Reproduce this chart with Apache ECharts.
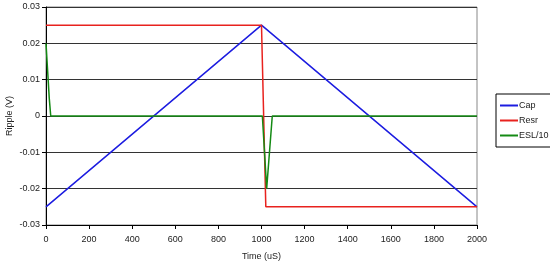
<!DOCTYPE html>
<html>
<head>
<meta charset="utf-8">
<script src="https://cdn.jsdelivr.net/npm/echarts@6/dist/echarts.min.js"></script>
<style>html,body{margin:0;padding:0;background:#fff}#c{width:550px;height:263px}</style>
</head>
<body>
<div id="c"></div>
<script>
var seriesNames = ['Cap', 'Resr', 'ESL/10'];
var capData = [[0, -0.025], [1000, 0.025], [2000, -0.025]];
var resrData = [[0, 0.025], [1000, 0.025], [1020, -0.025], [2000, -0.025]];
var eslData = [[0, 0.02], [5, 0.015], [15, 0.005], [22, 0], [1004, 0], [1024, -0.02], [1050, 0], [2000, 0]];
var xTicks = [0, 200, 400, 600, 800, 1000, 1200, 1400, 1600, 1800, 2000];
var yTicks = [-0.03, -0.02, -0.01, 0, 0.01, 0.02, 0.03];

var font = 'Liberation Sans, Arial, sans-serif';
var chart = echarts.init(document.getElementById('c'), null, {renderer: 'canvas'});
chart.setOption({
  animation: false,
  backgroundColor: '#fff',
  grid: {left: 46, right: 73, top: 7, bottom: 38, containLabel: false, outerBoundsMode: 'none',
    show: true, borderColor: '#888', borderWidth: 1},
  xAxis: {
    type: 'value', min: xTicks[0], max: xTicks[xTicks.length - 1], interval: 200,
    name: 'Time (uS)', nameLocation: 'middle', nameGap: 27, nameMoveOverlap: false,
    nameTextStyle: {fontFamily: font, fontSize: 9, color: '#222'},
    axisLine: {show: true, onZero: false, lineStyle: {color: '#000', width: 1}},
    axisTick: {show: true, length: 4, lineStyle: {color: '#000'}},
    axisLabel: {fontFamily: font, fontSize: 9, color: '#222', margin: 10,
      formatter: function (v) { return String(Math.round(v)); }},
    splitLine: {show: false}
  },
  yAxis: {
    type: 'value', min: yTicks[0], max: yTicks[yTicks.length - 1], interval: 0.01,
    name: 'Ripple (V)', nameLocation: 'middle', nameGap: 32, nameRotate: 90, nameMoveOverlap: false,
    nameTextStyle: {fontFamily: font, fontSize: 9, color: '#222'},
    axisLine: {show: true, onZero: false, lineStyle: {color: '#000', width: 1}},
    axisTick: {show: true, length: 4, lineStyle: {color: '#000'}},
    axisLabel: {fontFamily: font, fontSize: 9, color: '#222', margin: 6,
      formatter: function (v) { return String(Math.round(v * 100) / 100); }},
    splitLine: {show: true, lineStyle: {color: '#333', width: 1}}
  },
  legend: {
    orient: 'vertical', left: 496, top: 94,
    data: seriesNames,
    icon: 'rect', itemWidth: 18, itemHeight: 2, itemGap: 4,
    borderColor: '#000', borderWidth: 1, padding: [6, 12, 6, 4],
    textStyle: {fontFamily: font, fontSize: 9, color: '#222', lineHeight: 11, padding: [0, 0, 0, -4]}
  },
  series: [
    {name: seriesNames[0], type: 'line', data: capData, showSymbol: false, lineStyle: {color: '#1c1ce0', width: 1.5}, itemStyle: {color: '#1c1ce0'}},
    {name: seriesNames[1], type: 'line', data: resrData, showSymbol: false, lineStyle: {color: '#e8221e', width: 1.5}, itemStyle: {color: '#e8221e'}},
    {name: seriesNames[2], type: 'line', data: eslData, showSymbol: false, lineStyle: {color: '#148a14', width: 1.5}, itemStyle: {color: '#148a14'}}
  ]
});
</script>
</body>
</html>
